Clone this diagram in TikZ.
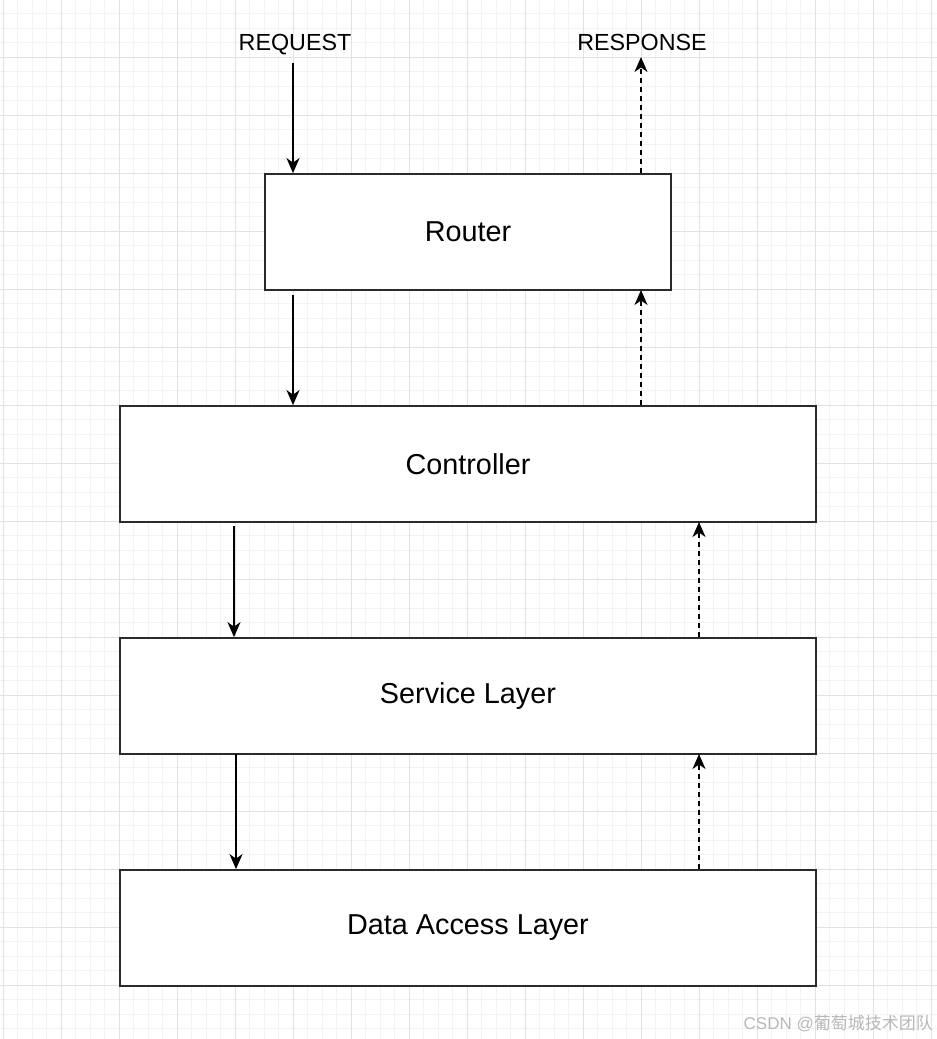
\documentclass[tikz,border=0pt]{standalone}
\usepackage{fontspec}
\setmainfont{Liberation Sans}
\newfontfamily\cjkfont{Noto Sans CJK SC}
\usetikzlibrary{arrows.meta}
\definecolor{gridmajor}{HTML}{E2E2E2}
\definecolor{gridminor}{HTML}{F3F3F3}
\definecolor{boxline}{HTML}{2A2A2A}
\definecolor{wmark}{HTML}{B8B8B8}
\tikzset{
  layerbox/.style={draw=boxline, line width=1.8pt, fill=white, minimum height=116pt, inner sep=0pt, font=\fontsize{28.8}{34}\selectfont},
  toplabel/.style={inner sep=0pt, anchor=base, font=\fontsize{23.3}{28}\selectfont},
  callarrow/.style={line width=1.7pt, draw=black, -{Stealth[length=15pt,width=13pt,inset=4.5pt]}},
  backarrow/.style={callarrow, dash pattern=on 5pt off 4pt},
}
\begin{document}
\begin{tikzpicture}[x=1pt,y=-1pt]
\useasboundingbox (0,0) rectangle (937,1039);
\fill[white] (0,0) rectangle (937,1039);
% grid
\foreach \i in {0,...,64} {
  \draw[gridminor, line width=0.8pt] ({3+14.5*\i},0) -- ({3+14.5*\i},1039);
}
\foreach \i in {0,...,72} {
  \draw[gridminor, line width=0.8pt] (0,{-1+14.5*\i}) -- (937,{-1+14.5*\i});
}
\foreach \i in {0,...,16} {
  \draw[gridmajor, line width=1pt] ({3+58*\i},0) -- ({3+58*\i},1039);
}
\foreach \i in {0,...,18} {
  \draw[gridmajor, line width=1pt] (0,{-1+58*\i}) -- (937,{-1+58*\i});
}
% boxes
\node[layerbox, minimum width=406pt] (router) at (468,232) {Router};
\node[layerbox, minimum width=696pt] (controller) at (468,464) {Controller};
\node[layerbox, minimum width=696pt] (service) at (468,696) {Service Layer};
\node[layerbox, minimum width=696pt] (data) at (468,928) {Data Access Layer};
% top labels
\node[toplabel] (req) at (295,50.5) {REQUEST};
\node[toplabel] (resp) at (642,50.5) {RESPONSE};
% coordinates
\coordinate (reqA) at (293,63);
\coordinate (respA) at (641,57);
\coordinate (rcA) at (293,295);
\coordinate (crA) at (641,290);
\coordinate (csA) at (234,526);
\coordinate (scA) at (699,522);
\coordinate (sdA) at (236,754);
\coordinate (dsA) at (699,754);
% arrows
\draw[callarrow] (reqA) -- (reqA |- router.north);
\draw[backarrow] (respA |- router.north) -- (respA);
\draw[callarrow] (rcA) -- (rcA |- controller.north);
\draw[backarrow] (crA |- controller.north) -- (crA);
\draw[callarrow] (csA) -- (csA |- service.north);
\draw[backarrow] (scA |- service.north) -- (scA);
\draw[callarrow] (sdA) -- (sdA |- data.north);
\draw[backarrow] (dsA |- data.north) -- (dsA);
% watermark
\node[anchor=east, inner sep=0pt, text=wmark, font=\fontsize{17}{20}\selectfont] (wm) at (933,1024) {CSDN @{\cjkfont 葡萄城技术团队}};
\end{tikzpicture}
\end{document}
